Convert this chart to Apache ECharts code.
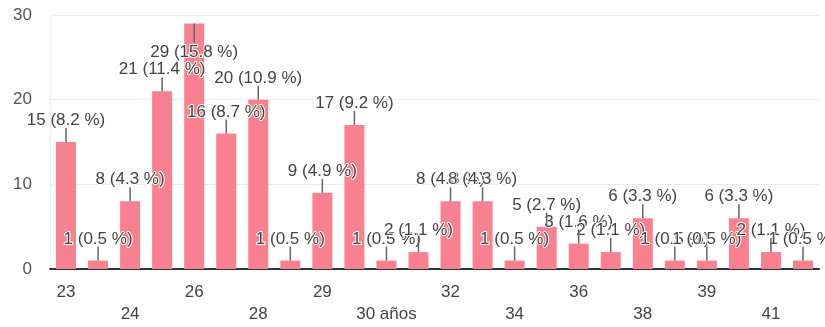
<!DOCTYPE html>
<html>
<head>
<meta charset="utf-8">
<script src="https://cdn.jsdelivr.net/npm/echarts@6/dist/echarts.min.js"></script>
<style>html,body{margin:0;padding:0;background:#fff}#c{width:825px;height:327px}</style>
</head>
<body>
<div id="c"></div>
<script>
const categories = ['23','23 años','24','25','26','27','28','28 años','29','30','30 años','31','32','33','34','35','36','37','38','38 años','39','40','41','42'];
const counts = [15,1,8,21,29,16,20,1,9,17,1,2,8,8,1,5,3,2,6,1,1,6,2,1];
const yTicks = [0,10,20,30];

const total = counts.reduce((a,b)=>a+b,0);
const yMax = yTicks[yTicks.length-1];
const FONT = 'Liberation Sans, Arial, sans-serif';

const barData = counts.map(v => {
  const d = {value: v};
  if (v >= yMax - 2) {
    d.label = {position: 'insideTop', distance: 20};
  }
  return d;
});

const chart = echarts.init(document.getElementById('c'), null, {renderer:'canvas'});
chart.setOption({
  animation: false,
  grid: {left: 50, right: 6, top: 15, bottom: 58, containLabel: false},
  xAxis: {
    type: 'category',
    data: categories,
    axisLine: {show: true, lineStyle: {color: '#333', width: 2}},
    axisTick: {show: false},
    axisLabel: {
      interval: 1,
      fontSize: 17, fontFamily: FONT, color: '#444', margin: 12, lineHeight: 22,
      formatter: (val, idx) => (idx % 4 === 2 ? '\n' + val : val)
    }
  },
  yAxis: {
    type: 'value',
    min: 0, max: yMax, interval: 10,
    axisLine: {show: true, lineStyle: {color: '#ececec', width: 1}},
    axisTick: {show: false},
    axisLabel: {fontSize: 17, fontFamily: FONT, color: '#555', margin: 18},
    splitLine: {lineStyle: {color: '#ebebeb', width: 1}}
  },
  series: [
    {
      type: 'bar',
      data: barData,
      barWidth: 20,
      itemStyle: {color: '#f9808f'},
      z: 2,
      label: {
        show: true,
        position: 'top',
        distance: 13,
        fontSize: 17,
        fontFamily: FONT,
        color: '#444',
        textBorderColor: '#fff',
        textBorderWidth: 2,
        formatter: p => p.value + ' (' + (p.value / total * 100).toFixed(1) + ' %)'
      }
    },
    {
      type: 'custom',
      z: 3,
      silent: true,
      data: counts.map((v, i) => [i, v]),
      renderItem: (params, api) => {
        const v = api.value(1);
        const p = api.coord([api.value(0), v]);
        const down = v >= yMax - 2;
        const len = down ? 19 : 14;
        return {
          type: 'line',
          shape: {x1: p[0], y1: p[1], x2: p[0], y2: down ? p[1] + len : p[1] - len},
          style: {stroke: '#666', lineWidth: 1.5}
        };
      }
    }
  ]
});
</script>
</body>
</html>
